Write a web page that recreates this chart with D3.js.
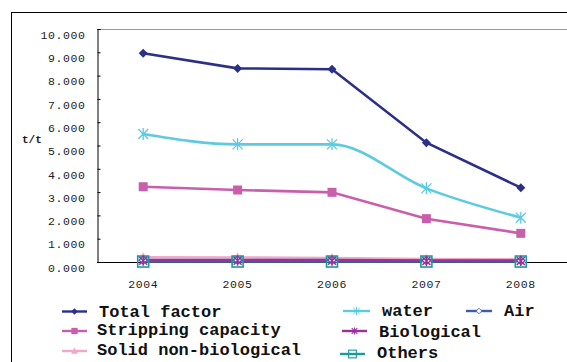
<!DOCTYPE html>
<html><head><meta charset="utf-8">
<script src="https://cdn.jsdelivr.net/npm/d3@7"></script>
<style>body{margin:0;background:#fff;} svg{display:block;}</style>
</head><body>
<script>
const years = ["2004","2005","2006","2007","2008"];
const yTicks = [0,1,2,3,4,5,6,7,8,9,10];
const totalFactor = [8.96, 8.31, 8.27, 5.12, 3.19];
const water = [5.49, 5.05, 5.05, 3.16, 1.90];
const stripping = [3.23, 3.09, 2.99, 1.86, 1.23];
const solidNonBio = [0.20, 0.19, 0.17, 0.13, 0.12];
const air = [0.08, 0.08, 0.08, 0.06, 0.06];
const biological = [0.05, 0.05, 0.05, 0.04, 0.04];
const others = [0.02, 0.02, 0.02, 0.02, 0.02];
const seriesNames = ["Total factor","Stripping capacity","Solid non-biological","water","Biological","Others","Air"];

const MONO = "'Liberation Mono', 'Courier New', 'Nimbus Mono PS', monospace";

const series = [
  {name:"Solid non-biological", values:solidNonBio, color:"#f2a7c9", marker:"triangle"},
  {name:"Others", values:others, color:"#1b9a9c", marker:"openSquare"},
  {name:"Air", values:air, color:"#3f5bb0", marker:"openDiamond"},
  {name:"Biological", values:biological, color:"#9b2f9c", marker:"star"},
  {name:"Stripping capacity", values:stripping, color:"#c95fab", marker:"square"},
  {name:"water", values:water, color:"#5ccbe2", marker:"asterisk", smooth:true},
  {name:"Total factor", values:totalFactor, color:"#2c2f88", marker:"diamond"}
];

const W=567,H=362;
const svg=d3.select("body").append("svg").attr("width",W).attr("height",H);
svg.append("rect").attr("x",11.5).attr("y",12.5).attr("width",600).attr("height",400)
  .attr("fill","none").attr("stroke","#000").attr("stroke-width",1);

const x=d3.scaleBand().domain(years).range([96,568]).padding(0);
const y=d3.scaleLinear().domain([0,10]).range([262,29]);
const cx=d=>x(d)+x.bandwidth()/2;

svg.append("line").attr("x1",97).attr("x2",W).attr("y1",29.5).attr("y2",29.5).attr("stroke","#999");

const yAxis=d3.axisLeft(y).tickValues(yTicks).tickSize(-3).tickFormat(d3.format(".3f"));
const gy=svg.append("g").attr("transform","translate(97.5,0)").call(yAxis);
gy.select(".domain").attr("stroke","#000");
gy.selectAll(".tick line").attr("stroke","#000");
gy.selectAll(".tick text").attr("x",-12).attr("dy","0.8em")
  .attr("font-family",MONO).attr("font-size","11.5px")
  .attr("letter-spacing","0.6px").attr("fill","#222");

const xAxis=d3.axisBottom(x).tickSize(0).tickSizeOuter(0);
const gx=svg.append("g").attr("transform","translate(0,262.5)").call(xAxis);
gx.select(".domain").attr("stroke","#000").attr("d","M97,0H"+(W+2));
gx.selectAll(".tick text").attr("y",17)
  .attr("font-family",MONO).attr("font-size","11.5px")
  .attr("letter-spacing","0.6px").attr("fill","#222");

svg.append("text").attr("x",22).attr("y",143).text("t/t")
  .attr("font-family",MONO).attr("font-size","11px").attr("font-weight","bold").attr("fill","#222");

function drawMarker(g,type,color,px,py){
  const s=g.append("g").attr("transform",`translate(${px},${py})`);
  if(type==="diamond"){
    s.append("path").attr("d","M0,-4.5L4.5,0L0,4.5L-4.5,0Z").attr("fill",color);
  } else if(type==="openDiamond"){
    s.append("path").attr("d","M0,-4L4,0L0,4L-4,0Z").attr("fill","#fff").attr("stroke",color).attr("stroke-width",1.2);
  } else if(type==="square"){
    s.append("rect").attr("x",-4.5).attr("y",-4.5).attr("width",9).attr("height",9).attr("fill",color);
  } else if(type==="openSquare"){
    s.append("rect").attr("x",-5.5).attr("y",-5.5).attr("width",11).attr("height",11).attr("fill","none").attr("stroke",color).attr("stroke-width",1.6);
  } else if(type==="triangle"){
    s.append("path").attr("d","M0,-5L5,4L-5,4Z").attr("fill",color);
  } else if(type==="asterisk"){
    s.append("path").attr("d","M-5,-5L5,5M-5,5L5,-5M0,-6V6").attr("stroke",color).attr("stroke-width",1.3).attr("fill","none");
  } else if(type==="star"){
    s.append("path").attr("d","M-4,-4L4,4M-4,4L4,-4M0,-5V5").attr("stroke",color).attr("stroke-width",1.5).attr("fill","none");
  }
}

series.forEach(s=>{
  const line=d3.line().x((d,i)=>cx(years[i])).y(d=>y(d));
  if(s.smooth) line.curve(d3.curveMonotoneX);
  svg.append("path").datum(s.values).attr("d",line).attr("fill","none")
    .attr("stroke",s.color).attr("stroke-width",2.6);
});
series.forEach(s=>{
  s.values.forEach((v,i)=>drawMarker(svg,s.marker,s.color,cx(years[i]),y(v)));
});

const byName=Object.fromEntries(series.map(s=>[s.name,s]));
const legendPos=[
  {lx1:62,lx2:87,ly:311.5,tx:99,ty:317},
  {lx1:62,lx2:87,ly:331,tx:97,ty:335},
  {lx1:62,lx2:87,ly:351,tx:97,ty:355},
  {lx1:343,lx2:370,ly:311,tx:382,ty:316},
  {lx1:342,lx2:367,ly:331,tx:379,ty:337},
  {lx1:340,lx2:365,ly:354,tx:377,ty:358},
  {lx1:466,lx2:492,ly:311,tx:504,ty:316}
];
seriesNames.forEach((n,i)=>{
  const s=byName[n],p=legendPos[i];
  const g=svg.append("g");
  g.append("line").attr("x1",p.lx1).attr("x2",p.lx2).attr("y1",p.ly).attr("y2",p.ly)
    .attr("stroke",s.color).attr("stroke-width",2.4);
  const mx=(p.lx1+p.lx2)/2;
  const sub=g.append("g").attr("transform",`translate(${mx},${p.ly}) scale(0.7) translate(${-mx},${-p.ly})`);
  drawMarker(sub,s.marker,s.color,mx,p.ly);
  g.append("text").attr("x",p.tx).attr("y",p.ty).text(n)
    .attr("font-family",MONO).attr("font-size","17px")
    .attr("font-weight","bold").attr("fill","#111");
});
</script>
</body></html>
